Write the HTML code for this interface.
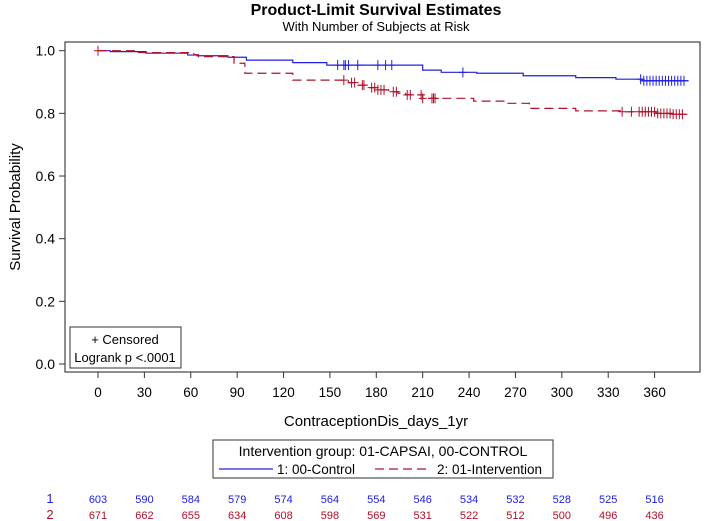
<!DOCTYPE html>
<html><head><meta charset="utf-8"><style>
body{margin:0;background:#fff;}
svg{display:block;font-family:"Liberation Sans",Arial,sans-serif;}
</style></head><body>
<svg id="chart" width="708" height="521" viewBox="0 0 708 521">
<text x="376" y="15" text-anchor="middle" font-size="16" font-weight="bold">Product-Limit Survival Estimates</text>
<text x="376" y="31" text-anchor="middle" font-size="13">With Number of Subjects at Risk</text>
<rect x="65" y="42" width="635" height="330" fill="none" stroke="#444" stroke-width="1.2"/>
<g id="yaxis"></g>
<g id="xaxis"></g>
<text transform="translate(20,207) rotate(-90)" text-anchor="middle" font-size="15">Survival Probability</text>
<text x="376" y="426" text-anchor="middle" font-size="15">ContraceptionDis_days_1yr</text>
<g id="series"></g>
<g>
<rect x="70" y="327" width="111" height="41" fill="#fff" stroke="#333"/>
<text x="125" y="344" text-anchor="middle" font-size="13">+ Censored</text>
<text x="125" y="362" text-anchor="middle" font-size="13">Logrank p &lt;.0001</text>
</g>
<g>
<rect x="213" y="440" width="340" height="38" fill="#fff" stroke="#333"/>
<text x="383" y="456" text-anchor="middle" font-size="14">Intervention group: 01-CAPSAI, 00-CONTROL</text>
<line x1="219" y1="469" x2="273" y2="469" stroke="#2020e0" stroke-width="1.2"/>
<text x="277" y="474" font-size="13.5">1: 00-Control</text>
<line x1="375" y1="469" x2="429" y2="469" stroke="#b0102a" stroke-width="1.2" stroke-dasharray="9,5"/>
<text x="437" y="474" font-size="13.5">2: 01-Intervention</text>
</g>
<g id="risk">
<text x="50" y="503" text-anchor="middle" font-size="13" fill="#2020e0">1</text>
<text x="50" y="519" text-anchor="middle" font-size="13" fill="#b0102a">2</text>
</g>
</svg>
<script>
const xTicks=[0,30,60,90,120,150,180,210,240,270,300,330,360];
const yTicks=[0,0.2,0.4,0.6,0.8,1.0];
const riskControl=[603,590,584,579,574,564,554,546,534,532,528,525,516];
const riskIntervention=[671,662,655,634,608,598,569,531,522,512,500,496,436];
const controlTimes=[0,8,31,58,64,84,96,126,148,210,222,245,275,309,335,352,382];
const controlSurv=[1.0,0.997,0.992,0.986,0.984,0.979,0.970,0.962,0.954,0.938,0.931,0.928,0.920,0.914,0.909,0.904,0.904];
const interventionTimes=[0,26,62,65,88,95,126,162,168,175,181,188,194,199,210,243,264,279,309,339,361,372,382];
const interventionSurv=[1.0,0.994,0.987,0.981,0.960,0.928,0.906,0.898,0.890,0.882,0.875,0.869,0.864,0.859,0.848,0.839,0.832,0.816,0.808,0.805,0.800,0.797,0.797];
const controlCensor=[155,159,160,162,168,181,186,190,236,351,353,355,357,359,361,363,365,367,369,371,373,375,377,379];
const interventionCensor=[0,159,164,166,171,172,177,179,181,183,185,191,193,200,202,209,210,216,217,218,339,345,350,352,354,356,358,360,362,364,366,368,370,372,374,376,378];
const NS="http://www.w3.org/2000/svg";
function sx(d){return 98+d*(556.6/360);}
function sy(p){return 364-p*313.3;}
function mk(tag,attrs,parent){const e=document.createElementNS(NS,tag);for(const k in attrs)e.setAttribute(k,attrs[k]);parent.appendChild(e);return e;}
const yax=document.getElementById('yaxis'),xax=document.getElementById('xaxis'),ser=document.getElementById('series'),risk=document.getElementById('risk');
yTicks.forEach(v=>{
 const l=mk('line',{x1:59,x2:65,y1:sy(v),y2:sy(v),stroke:'#333'},yax);
 
 
 const t=mk('text',{x:55,y:sy(v)+5,'text-anchor':'end','font-size':14},yax);t.textContent=v.toFixed(1);
 
 
});
xTicks.forEach((v,i)=>{
 const l=mk('line',{x1:sx(v),x2:sx(v),y1:372,y2:378,stroke:'#333'},xax);
 
 
 const t=mk('text',{x:sx(v),y:397,'text-anchor':'middle','font-size':13.5},xax);t.textContent=v;
 
 
 const a=mk('text',{x:sx(v),y:503,'text-anchor':'middle','font-size':11,fill:'#2020e0'},risk);a.textContent=riskControl[i];
 
 
 const b=mk('text',{x:sx(v),y:519,'text-anchor':'middle','font-size':11,fill:'#b0102a'},risk);b.textContent=riskIntervention[i];
 
 
});
function stepPath(ts,ss){let d='M'+sx(ts[0])+','+sy(ss[0]);for(let i=1;i<ts.length;i++){d+=' H'+sx(ts[i])+' V'+sy(ss[i]);}return d;}
function survAt(ts,ss,t){let s=ss[0];for(let i=0;i<ts.length;i++){if(ts[i]<=t)s=ss[i];}return s;}
const p1=mk('path',{d:stepPath(controlTimes,controlSurv),fill:'none',stroke:'#2020e0','stroke-width':1.2},ser);


const p2=mk('path',{d:stepPath(interventionTimes,interventionSurv),fill:'none',stroke:'#b0102a','stroke-width':1.2,'stroke-dasharray':'9,5'},ser);


function censor(list,ts,ss,col,name){list.forEach(t=>{const x=sx(t),y=sy(survAt(ts,ss,t));
 const g=mk('path',{d:`M${x-4},${y}H${x+4}M${x},${y-5}V${y+5}`,stroke:col,'stroke-width':1},ser);
 
 
});}
censor(controlCensor,controlTimes,controlSurv,'#2020e0','control-censor-mark');
censor(interventionCensor,interventionTimes,interventionSurv,'#b0102a','intervention-censor-mark');
</script>
</body></html>
